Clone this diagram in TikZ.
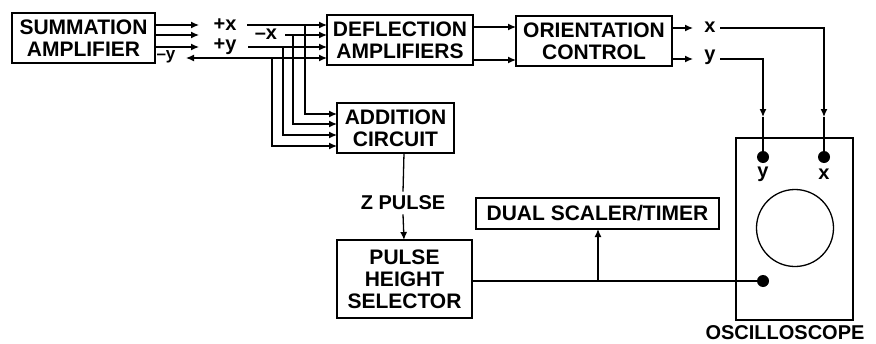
\documentclass[tikz,border=0pt]{standalone}
\usepackage{fontspec}
\setmainfont{Liberation Sans}
\usetikzlibrary{arrows.meta}
\begin{document}
\begin{tikzpicture}[x=1pt,y=-1pt,
 box/.style={draw,line width=1.8pt,inner sep=0pt,align=center,font=\bfseries\fontsize{21}{22}\selectfont},
 lab/.style={inner sep=0pt,font=\bfseries\fontsize{20}{21}\selectfont},
 conn/.style={line width=1.3pt},
 arr/.style={conn,-{Latex[length=8pt,width=7pt]}},
 dot/.style={circle,fill,inner sep=0pt,minimum size=12pt},
]
\useasboundingbox (0,0) rectangle (876,343);
% boxes
\node[box,minimum width=143pt,minimum height=50pt] (sum) at (83.5,38) {SUMMATION\\AMPLIFIER};
\node[box,minimum width=146pt,minimum height=50pt] (defl) at (400,40) {DEFLECTION\\AMPLIFIERS};
\node[box,minimum width=156pt,minimum height=50pt] (orient) at (594,41) {ORIENTATION\\CONTROL};
\node[box,minimum width=117pt,minimum height=50pt] (add) at (395.5,128) {ADDITION\\CIRCUIT};
\node[box,minimum width=135pt,minimum height=78pt] (pulse) at (404.5,279) {PULSE\\HEIGHT\\SELECTOR};
\node[box,minimum width=243pt,minimum height=31pt] (dual) at (597.5,213.5) {DUAL SCALER/TIMER};
\node[draw,line width=1.8pt,minimum width=117pt,minimum height=182pt,inner sep=0pt] (osc) at (794.5,229) {};
\node[circle,draw,line width=1.3pt,minimum size=77pt,inner sep=0pt] (screen) at (795,228) {};
\node[dot] (ydot) at (763,157) {};
\node[dot] (xdot) at (824,157) {};
\node[dot] (zdot) at (763,281) {};
\node[lab] (ylab) at (763,174) {y};
\node[lab] (xlab) at (824,174) {x};
\node[lab] (osclab) at (785,333) {OSCILLOSCOPE};
% labels
\node[lab] (px) at (225,25) {+x};
\node[lab] (mx) at (266,34) {–x};
\node[lab] (py) at (225,47) {+y};
\node[lab,font=\bfseries\fontsize{17}{20}\selectfont] (my) at (166,57) {–y};
\node[lab] (xo) at (710,27) {x};
\node[lab] (yo) at (710,57) {y};
\node[lab,inner sep=4pt] (zlab) at (403,203) {Z PULSE};
% coordinates
\coordinate (s1) at (155,25); \coordinate (t1) at (199,25);
\coordinate (s2) at (155,35); \coordinate (t2) at (199,35);
\coordinate (s3) at (155,47); \coordinate (t3) at (199,47);
\coordinate (t4) at (186,58);
\coordinate (r1) at (247,25); \coordinate (d1) at (327,25);
\coordinate (r2) at (285,35); \coordinate (d2) at (327,35);
\coordinate (r3) at (248,47); \coordinate (d3) at (327,47);
\coordinate (d4) at (327,58);
\coordinate (b1) at (305,25); \coordinate (a1) at (337,114);
\coordinate (b2) at (293,35); \coordinate (a2) at (337,124);
\coordinate (b3) at (283,47); \coordinate (a3) at (337,135);
\coordinate (b4) at (272,58); \coordinate (a4) at (337,146);
\coordinate (e1) at (473,27); \coordinate (f1) at (516,27);
\coordinate (e2) at (473,60); \coordinate (f2) at (516,60);
\coordinate (g1) at (672,28); \coordinate (h1) at (693,28);
\coordinate (g2) at (672,59); \coordinate (h2) at (693,59);
\coordinate (k1) at (720,28); \coordinate (m1) at (824,117);
\coordinate (k2) at (720,59); \coordinate (m2) at (763,117);
\coordinate (z0) at (404,153); \coordinate (z1) at (404,240);
\coordinate (p0) at (472,281); \coordinate (j) at (598,281); \coordinate (du) at (598,229);
% connectors
\draw[arr] (s1) -- (t1);
\draw[arr] (s2) -- (t2);
\draw[arr] (s3) -- (t3);
\draw[arr] (r1) -- (d1);
\draw[arr] (r2) -- (d2);
\draw[arr] (r3) -- (d3);
\draw[conn,{Latex[length=8pt,width=7pt]}-{Latex[length=8pt,width=7pt]}] (t4) -- (d4);
\draw[arr] (b1) |- (a1);
\draw[arr] (b2) |- (a2);
\draw[arr] (b3) |- (a3);
\draw[arr] (b4) |- (a4);
\draw[arr] (e1) -- (f1);
\draw[arr] (e2) -- (f2);
\draw[arr] (g1) -- (h1);
\draw[arr] (g2) -- (h2);
\draw[arr] (k1) -| (m1);
\draw[conn] (m1) -- (xdot);
\draw[arr] (k2) -| (m2);
\draw[conn] (m2) -- (ydot);
\draw[conn] (z0) -- (zlab.north);
\draw[arr] (zlab.south) -- (z1);
\draw[conn] (p0) -- (zdot);
\draw[arr] (j) -- (du);
\end{tikzpicture}
\end{document}
